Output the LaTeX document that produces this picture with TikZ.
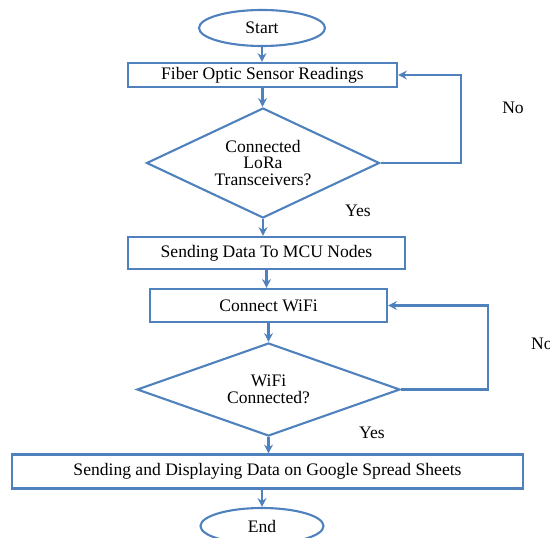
\documentclass[tikz,border=0pt]{standalone}
\usepackage{fontspec}
\setmainfont{Liberation Serif}
\usetikzlibrary{shapes.geometric,arrows.meta}

\definecolor{flowblue}{RGB}{79,129,189}
\tikzset{
  block/.style={draw=flowblue, line width=1.2pt, rectangle, inner sep=0pt, font=\fontsize{10}{11.5}\selectfont},
  term/.style={draw=flowblue, line width=1.2pt, ellipse, inner sep=0pt, font=\fontsize{10}{11.5}\selectfont},
  decision/.style={draw=flowblue, line width=1.2pt, diamond, inner sep=0pt, align=center, font=\fontsize{10}{9.6}\selectfont},
  arr/.style={draw=flowblue, line width=1.2pt, -{Stealth[length=5pt,width=5pt]}},
  answer/.style={font=\fontsize{10}{11.5}\selectfont}
}

\begin{document}
\begin{tikzpicture}
\useasboundingbox (0,0) rectangle (11,-10.74);

\node (start) at (5.24,-0.56) [term, minimum width=2.52cm, minimum height=0.72cm]{Start};
\node (sensor) at (5.25,-1.50) [block, minimum width=5.38cm, minimum height=0.48cm]{Fiber Optic Sensor Readings};
\node (lora) at (5.26,-3.26) [decision, aspect=2.1, minimum width=4.66cm, minimum height=2.2cm]{Connected\\LoRa\\Transceivers?};
\node (mcu) at (5.33,-5.06) [block, minimum width=5.54cm, minimum height=0.64cm]{Sending Data To MCU Nodes};
\node (wifi) at (5.37,-6.11) [block, minimum width=4.74cm, minimum height=0.66cm]{Connect WiFi};
\node (wific) at (5.37,-7.79) [decision, aspect=2.8, minimum width=5.26cm, minimum height=1.86cm]{WiFi\\Connected?};
\node (sheets) at (5.35,-9.43) [block, minimum width=10.22cm, minimum height=0.68cm]{Sending and Displaying Data on Google Spread Sheets};
\node (end) at (5.24,-10.52) [term, minimum width=2.46cm, minimum height=0.72cm]{End};

\coordinate (loopA) at (9.22,0);
\coordinate (loopB) at (9.76,0);

\node (noA) at (10.26,-2.16) [answer]{No};
\node (yesA) at (7.16,-4.22) [answer]{Yes};
\node (noB) at (10.5,-6.88) [answer, anchor=west]{No};
\node (yesB) at (7.44,-8.66) [answer]{Yes};

\draw [arr] (start) -- (start |- sensor.north);
\draw [arr] (sensor) -- (sensor |- lora.north);
\draw [arr] (lora) -- (lora |- mcu.north);
\draw [arr] (mcu) -- (mcu |- wifi.north);
\draw [arr] (wifi) -- (wifi |- wific.north);
\draw [arr] (wific) -- (wific |- sheets.north);
\draw [arr] (end |- sheets.south) -- (end);

\draw [arr] (lora.east) -- (lora.east -| loopA) |- (sensor.east);
\draw [arr] (wific.east) -- (wific.east -| loopB) |- (wifi.east);

\end{tikzpicture}
\end{document}
